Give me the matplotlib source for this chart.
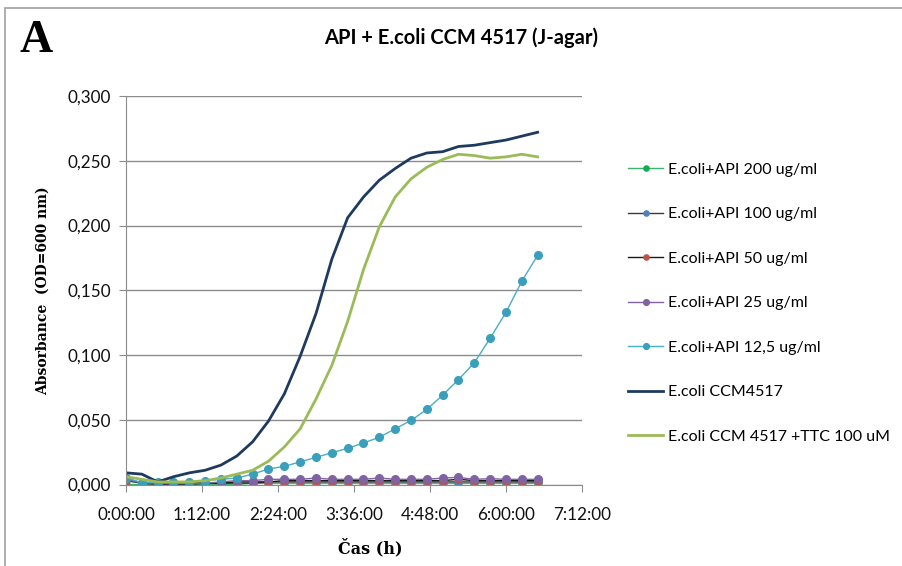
import numpy as np
import matplotlib
matplotlib.use('Agg')
import matplotlib.pyplot as plt
from matplotlib.ticker import FuncFormatter, MultipleLocator
from matplotlib.patches import Rectangle

######################## data ##################################################

# time in hours, one reading every 15 min
timeH = [0.0, 0.25, 0.5, 0.75, 1.0, 1.25, 1.5, 1.75, 2.0, 2.25, 2.5, 2.75,
         3.0, 3.25, 3.5, 3.75, 4.0, 4.25, 4.5, 4.75, 5.0, 5.25, 5.5, 5.75,
         6.0, 6.25, 6.5]

api200 = [0.000, 0.000, 0.000, 0.000, 0.000, 0.000, 0.000, 0.000, 0.001,
          0.001, 0.001, 0.001, 0.001, 0.001, 0.001, 0.001, 0.001, 0.001,
          0.001, 0.001, 0.001, 0.001, 0.001, 0.001, 0.001, 0.001, 0.001]
api100 = [0.005, 0.001, 0.000, 0.000, 0.000, 0.001, 0.001, 0.001, 0.001,
          0.002, 0.002, 0.002, 0.002, 0.002, 0.002, 0.002, 0.002, 0.002,
          0.002, 0.002, 0.002, 0.002, 0.002, 0.002, 0.002, 0.002, 0.002]
api50 = [0.003, 0.001, 0.001, 0.002, 0.002, 0.001, 0.001, 0.002, 0.002,
         0.002, 0.003, 0.003, 0.003, 0.003, 0.003, 0.003, 0.003, 0.003,
         0.003, 0.003, 0.003, 0.004, 0.003, 0.003, 0.003, 0.003, 0.003]
api25 = [0.004, 0.001, 0.001, 0.001, 0.001, 0.001, 0.002, 0.003, 0.003,
         0.004, 0.004, 0.004, 0.005, 0.004, 0.004, 0.004, 0.005, 0.004,
         0.004, 0.004, 0.005, 0.0055, 0.004, 0.0045, 0.004, 0.004, 0.004]
api12_5 = [0.005, 0.0015, 0.002, 0.002, 0.002, 0.003, 0.004, 0.005, 0.008,
           0.012, 0.014, 0.0175, 0.021, 0.0245, 0.028, 0.032, 0.0365, 0.043,
           0.0495, 0.058, 0.069, 0.081, 0.094, 0.113, 0.133, 0.157, 0.177]
ccm4517 = [0.009, 0.008, 0.002, 0.006, 0.009, 0.011, 0.015, 0.022, 0.033,
           0.049, 0.070, 0.099, 0.132, 0.174, 0.206, 0.222, 0.235, 0.244,
           0.252, 0.256, 0.257, 0.261, 0.262, 0.264, 0.266, 0.269, 0.272]
ccmTTC = [0.006, 0.004, 0.002, 0.002, 0.002, 0.003, 0.005, 0.008, 0.011,
          0.018, 0.029, 0.043, 0.066, 0.092, 0.126, 0.166, 0.199, 0.222,
          0.236, 0.245, 0.251, 0.255, 0.254, 0.252, 0.253, 0.255, 0.253]

labels = ['E.coli+API 200 ug/ml', 'E.coli+API 100 ug/ml',
          'E.coli+API 50 ug/ml', 'E.coli+API 25 ug/ml',
          'E.coli+API 12,5 ug/ml', 'E.coli CCM4517',
          'E.coli CCM 4517 +TTC 100 uM']

######################## figure ################################################

fig = plt.figure(figsize=(9.03, 5.66), dpi=100)
fig.patches.append(Rectangle((5 / 903, -0.1), 1.2, 1 - 8 / 566 + 0.1,
                             transform=fig.transFigure, fill=False,
                             edgecolor='#a0a0a0', linewidth=1.2))

ax = fig.add_axes([126 / 903, 1 - 484.5 / 566, 456 / 903, 388.5 / 566])

textFont = ['Lato', 'DejaVu Sans']

ax.plot(timeH, api200, color='#3cb46a', lw=1.0, marker='o', ms=5,
        mfc='#17a85a', mec='#17a85a', label=labels[0])
ax.plot(timeH, api100, color='#3a3a3a', lw=1.0, marker='o', ms=5,
        mfc='#4f81bd', mec='#4f81bd', label=labels[1])
ax.plot(timeH, api50, color='#1a1a1a', lw=1.0, marker='o', ms=5,
        mfc='#c0504d', mec='#c0504d', label=labels[2])
ax.plot(timeH, api25, color='#8064a2', lw=1.0, marker='o', ms=5.5,
        mfc='#8064a2', mec='#8064a2', label=labels[3])
ax.plot(timeH, api12_5, color='#4bacc6', lw=1.0, marker='o', ms=5.5,
        mfc='#3a9fba', mec='#3a9fba', label=labels[4])
ax.plot(timeH, ccm4517, color='#1f3a5f', lw=2.0, label=labels[5])
ax.plot(timeH, ccmTTC, color='#9bbb59', lw=2.0, label=labels[6])

ax.set_xlim(0, 7.2)
ax.set_ylim(0, 0.3)
ax.xaxis.set_major_locator(MultipleLocator(1.2))
ax.yaxis.set_major_locator(MultipleLocator(0.05))


def hms(x, pos):
    s = int(round(x * 3600))
    return f'{s // 3600}:{(s % 3600) // 60:02d}:{s % 60:02d}'


ax.xaxis.set_major_formatter(FuncFormatter(hms))
ax.yaxis.set_major_formatter(FuncFormatter(lambda y, p: f'{y:.3f}'.replace('.', ',')))

ax.grid(axis='y', color='#8c8c8c', lw=1.0)
ax.set_axisbelow(True)
for side in ['top', 'right']:
    ax.spines[side].set_visible(False)
for side in ['left', 'bottom']:
    ax.spines[side].set_color('#8c8c8c')
ax.tick_params(axis='both', color='#8c8c8c', length=5, labelsize=12.3,
               labelcolor='#111111')
ax.tick_params(axis='x', pad=11)
ax.tick_params(axis='y', pad=6)
for lab in ax.get_xticklabels() + ax.get_yticklabels():
    lab.set_family(textFont)

leg = ax.legend(loc='upper left', bbox_to_anchor=(1.07, 0.866), frameon=False,
                prop={'family': textFont, 'size': 11.5}, labelspacing=1.9,
                handlelength=2.2, handletextpad=0.3, markerscale=0.75)

fig.text(0.5105, 0.934, 'API + E.coli CCM 4517 (J-agar)', ha='center',
         va='center', fontsize=14.5, fontweight='bold', family=textFont)
fig.text(0.022, 0.927, 'A', ha='left', va='center', fontsize=33,
         fontweight='bold', family='Liberation Serif')
fig.text(0.047, 0.487, 'Absorbance  (OD=600 nm)', rotation=90, ha='center',
         va='center', fontsize=10, fontweight='bold', family='DejaVu Serif')
fig.text(0.41, 0.032, 'Čas (h)', ha='center', va='center', fontsize=11.5,
         fontweight='bold', family='DejaVu Serif')

fig.savefig('out.png', dpi=100)
